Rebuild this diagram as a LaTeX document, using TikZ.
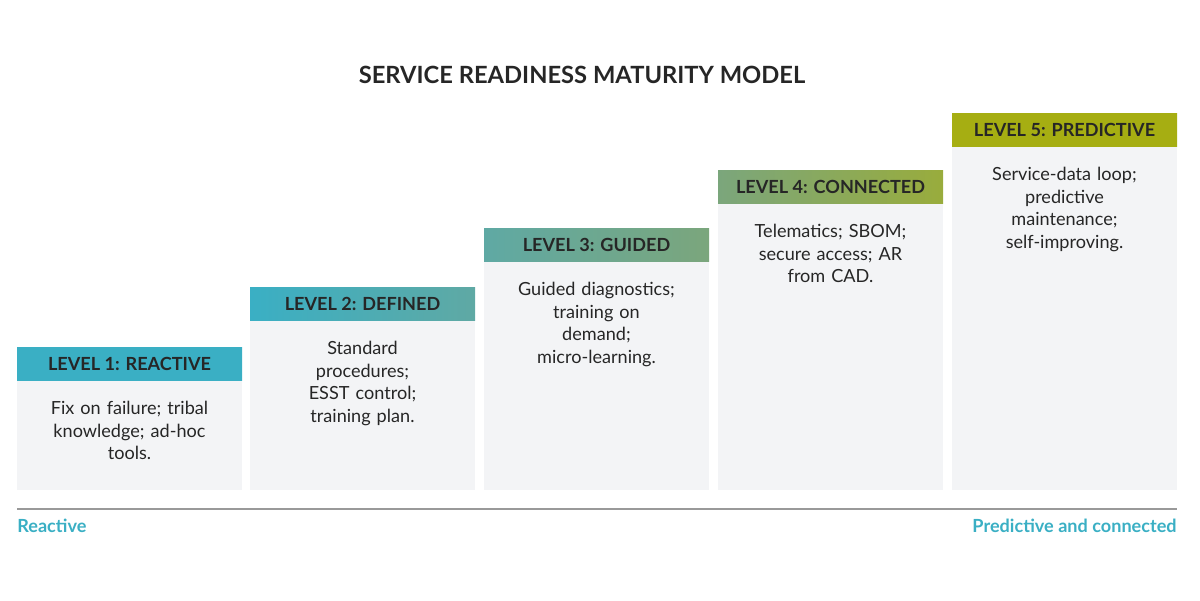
\documentclass[tikz,border=0pt]{standalone}
\usepackage{fontspec}
\setmainfont{Lato}
\begin{document}
\begin{tikzpicture}[x=0.02cm,y=-0.02cm,
  body/.style={fill=bodyc,draw=none},
  hdr/.style={draw=none},
  htext/.style={font=\fontsize{10.3}{12}\selectfont\bfseries,text=black!85},
  btext/.style={font=\fontsize{10.3}{12.8}\selectfont,text=black!85,align=center,text width=4.1cm,anchor=north}]
\definecolor{bodyc}{HTML}{F3F4F6}
\definecolor{c1}{HTML}{3AAFC4}
\definecolor{c2}{HTML}{5FA9A4}
\definecolor{c3}{HTML}{7BA67C}
\definecolor{c4}{HTML}{99AC3C}
\definecolor{c5}{HTML}{A6AE12}
\useasboundingbox (0,0) rectangle (1200,600);
\node[font=\fontsize{13.5}{15}\selectfont\bfseries,text=black!85] (title) at (582,75) {SERVICE READINESS MATURITY MODEL};
\foreach \i/\x/\y/\ca/\cb/\t in {1/17/347/c1/c1/LEVEL 1: REACTIVE,2/250/287/c1/c2/LEVEL 2: DEFINED,3/484/228/c2/c3/LEVEL 3: GUIDED,4/718/170/c3/c4/LEVEL 4: CONNECTED,5/952/113/c5/c5/LEVEL 5: PREDICTIVE}{
  \fill[bodyc] (\x,\y) rectangle (\x+225,490);
  \shade[left color=\ca,right color=\cb] (\x,\y) rectangle (\x+225,\y+33);
  \node[htext] (h\i) at (\x+112.5,\y+16.5) {\t};
  \coordinate (b\i) at (\x+112.5,\y+48);
}
\node[btext] (t1) at (b1) {Fix on failure; tribal\\knowledge; ad-hoc\\tools.};
\node[btext] (t2) at (b2) {Standard\\procedures;\\ESST control;\\training plan.};
\node[btext] (t3) at (b3) {Guided diagnostics;\\training on\\demand;\\micro-learning.};
\node[btext] (t4) at (b4) {Telematics; SBOM;\\secure access; AR\\from CAD.};
\node[btext] (t5) at (b5) {Service-data loop;\\predictive\\maintenance;\\self-improving.};
\coordinate (l) at (17,509);
\coordinate (r) at (1177,509);
\draw[black!40,line width=1pt] (l) -- (r);
\node[anchor=west,text=c1,font=\fontsize{10.3}{12}\selectfont\bfseries,inner sep=0] (lo) at (17,526) {Reactive};
\node[anchor=east,text=c1,font=\fontsize{10.3}{12}\selectfont\bfseries,inner sep=0] (hi) at (1177,526) {Predictive and connected};
\end{tikzpicture}
\end{document}
